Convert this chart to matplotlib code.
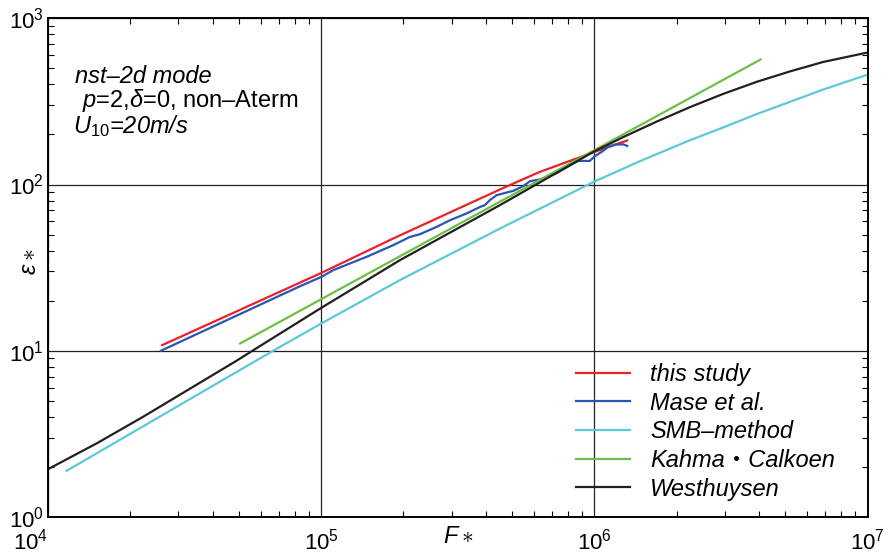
#!/usr/bin/env python3

import numpy as np
import matplotlib
matplotlib.use('Agg')
import matplotlib.pyplot as plt

plt.rcParams['font.family'] = ['Liberation Sans', 'Noto Sans CJK JP', 'DejaVu Sans']
plt.rcParams['mathtext.fontset'] = 'custom'
plt.rcParams['mathtext.rm'] = 'Liberation Sans'
plt.rcParams['mathtext.it'] = 'Liberation Sans:italic'

# log10(F*) / log10(eps*) pairs for each growth curve
this_study_logF = [4.418, 5.0, 5.276, 5.654, 5.800, 6.0, 6.12]
this_study_logE = [1.034, 1.468, 1.685, 1.970, 2.076, 2.196, 2.265]

mase_logF = [4.413, 4.922, 5.0, 5.044, 5.166, 5.263, 5.325, 5.361, 5.422, 5.471,
             5.532, 5.581, 5.599, 5.617, 5.642, 5.703, 5.739, 5.764, 5.800, 5.861,
             5.922, 5.941, 5.983, 6.001, 6.026, 6.050, 6.075, 6.105, 6.120]
mase_logE = [1.000, 1.388, 1.444, 1.485, 1.565, 1.635, 1.685, 1.701, 1.745, 1.785,
             1.826, 1.865, 1.876, 1.906, 1.936, 1.962, 1.990, 2.020, 2.030, 2.068,
             2.126, 2.142, 2.142, 2.170, 2.196, 2.226, 2.240, 2.242, 2.232]

smb_logF = [4.068, 4.764, 4.824, 5.0, 5.288, 5.654, 6.0, 6.166, 6.349, 6.471,
            6.593, 6.715, 6.837, 7.0]
smb_logE = [0.278, 0.943, 1.0, 1.164, 1.425, 1.735, 2.018, 2.140, 2.266, 2.343,
            2.423, 2.497, 2.571, 2.661]

kahma_logF = [4.703, 6.608]
kahma_logE = [1.044, 2.752]

westhuysen_logF = [4.0, 4.178, 4.348, 4.693, 4.748, 5.0, 5.288, 5.654, 6.0, 6.105,
                   6.227, 6.349, 6.471, 6.593, 6.715, 6.837, 7.0]
westhuysen_logE = [0.288, 0.443, 0.603, 0.943, 1.0, 1.258, 1.545, 1.876, 2.200, 2.285,
                   2.378, 2.465, 2.545, 2.617, 2.680, 2.737, 2.794]

series = [
    ('this study', this_study_logF, this_study_logE, '#e8212a'),
    ('Mase et al.', mase_logF, mase_logE, '#2b55b2'),
    ('SMB\u2013method', smb_logF, smb_logE, '#5cc8d8'),
    ('Kahma\u30fbCalkoen', kahma_logF, kahma_logE, '#6cbf45'),
    ('Westhuysen', westhuysen_logF, westhuysen_logE, '#231f20'),
]

fig = plt.figure(figsize=(8.89, 5.53), dpi=100)
ax = fig.add_axes([0.054, 0.065, 0.922, 0.902])

for label, lf, le, color in series:
    ax.plot(10 ** np.array(lf), 10 ** np.array(le), color=color, lw=1.6, label=label)

ax.set_xscale('log')
ax.set_yscale('log')
ax.set_xlim(1e4, 1e7)
ax.set_ylim(1e0, 1e3)

ax.grid(True, which='major', color='#222222', lw=0.9)
ax.tick_params(which='both', direction='in', top=True, right=True, labelsize=16)
ax.tick_params(axis='x', pad=8)
ax.tick_params(axis='y', pad=3)
ax.tick_params(which='major', length=0)
ax.tick_params(which='minor', length=4, width=0.8)
for sp in ax.spines.values():
    sp.set_linewidth(1.4)

# first x label sits right-aligned so it clears the figure edge
fig.canvas.draw()
xlabels = ax.get_xticklabels()
xlabels[[t.get_position()[0] for t in xlabels].index(1e4)].set_ha('right')

ax.set_xlabel(r'$F\ast$', fontsize=17)
ax.xaxis.set_label_coords(0.5, -0.018)
ax.set_ylabel(r'$\varepsilon\ast$', fontsize=17)
ax.yaxis.set_label_coords(-0.008, 0.511)

ax.text(0.033, 0.870, 'nst\u20132d mode', transform=ax.transAxes, fontsize=17,
        style='italic', va='baseline')
ax.text(0.041, 0.822, '$p$=2,$\\delta$=0, non\u2013Aterm', transform=ax.transAxes,
        fontsize=17, va='baseline')
ax.text(0.031, 0.770, '$U_{10}$=20m/s', transform=ax.transAxes, fontsize=17,
        style='italic', va='baseline')

leg = ax.legend(loc='upper left', bbox_to_anchor=(0.644, 0.309), frameon=False,
                prop={'size': 17, 'style': 'italic'}, borderpad=0, borderaxespad=0,
                handlelength=2.3, handletextpad=0.85, labelspacing=0.24)

plt.savefig('out.png', dpi=100)
plt.close()
